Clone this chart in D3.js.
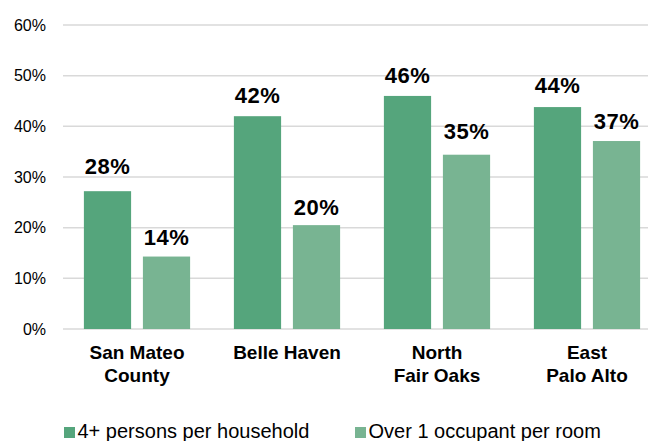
<!DOCTYPE html>
<html>
<head>
<meta charset="utf-8">
<script src="https://cdn.jsdelivr.net/npm/d3@7"></script>
<style>
  html, body { margin: 0; padding: 0; background: #fff; }
  svg { display: block; font-family: "Liberation Sans", Arial, sans-serif; }
</style>
</head>
<body>
<svg id="chart" width="648" height="441"></svg>
<script>
const categories = [['San Mateo', 'County'], ['Belle Haven'], ['North', 'Fair Oaks'], ['East', 'Palo Alto']];
const seriesNames = ['4+ persons per household', 'Over 1 occupant per room'];
const householdValues = [27.2, 42, 46, 43.8];
const occupantValues = [14.3, 20.5, 34.4, 37.1];
const householdLabels = [28, 42, 46, 44];
const occupantLabels = [14, 20, 35, 37];
const yTicks = [0, 10, 20, 30, 40, 50, 60];
const colors = ['#55a57c', '#78b492'];

const svg = d3.select('#chart');

const x0 = d3.scaleBand().domain(d3.range(categories.length)).range([62, 662]);
const x1 = d3.scaleBand().domain([0, 1]).range([0, x0.bandwidth()])
  .paddingInner(0.2).paddingOuter(0.371);
const y = d3.scaleLinear().domain([0, 60]).range([329, 25]);

// gridlines
svg.append('g')
  .selectAll('line')
  .data(yTicks)
  .join('line')
  .attr('x1', 63)
  .attr('x2', 648)
  .attr('y1', (d) => y(d))
  .attr('y2', (d) => y(d))
  .attr('stroke', '#d9d9d9')
  .attr('stroke-width', 1.5);

// y tick labels
svg.append('g')
  .selectAll('text')
  .data(yTicks)
  .join('text')
  .attr('x', 46)
  .attr('y', (d) => y(d) + 5.5)
  .attr('text-anchor', 'end')
  .attr('font-size', 16)
  .attr('fill', '#000')
  .text((d) => `${d}%`);

const series = [
  { values: householdValues, labels: householdLabels },
  { values: occupantValues, labels: occupantLabels },
];

series.forEach((s, si) => {
  const g = svg.append('g');
  g.selectAll('rect')
    .data(s.values)
    .join('rect')
    .attr('x', (d, i) => x0(i) + x1(si))
    .attr('width', x1.bandwidth())
    .attr('y', (d) => y(d))
    .attr('height', (d) => y(0) - y(d))
    .attr('fill', colors[si]);

  g.selectAll('text')
    .data(s.labels)
    .join('text')
    .attr('x', (d, i) => x0(i) + x1(si) + x1.bandwidth() / 2)
    .attr('y', (d) => y(d) - 13)
    .attr('text-anchor', 'middle')
    .attr('font-size', 22)
    .attr('font-weight', 'bold')
    .attr('letter-spacing', 0.5)
    .attr('fill', '#000')
    .text((d) => `${d}%`);
});

// category labels
const catG = svg.append('g');
categories.forEach((lines, i) => {
  const t = catG.append('text')
    .attr('text-anchor', 'middle')
    .attr('font-size', 19)
    .attr('font-weight', 'bold')
    .attr('fill', '#000');
  lines.forEach((line, li) => {
    t.append('tspan')
      .attr('x', x0(i) + x0.bandwidth() / 2)
      .attr('y', 359 + li * 23)
      .text(line);
  });
});

// legend
const legendX = [64, 355];
const legend = svg.append('g')
  .selectAll('g')
  .data(seriesNames)
  .join('g')
  .attr('transform', (d, i) => `translate(${legendX[i]},427)`);
legend.append('rect')
  .attr('width', 11)
  .attr('height', 11)
  .attr('fill', (d, i) => colors[i]);
legend.append('text')
  .attr('x', 13.5)
  .attr('y', 11)
  .attr('font-size', 20)
  .attr('fill', '#000')
  .text((d) => d);
</script>
</body>
</html>
